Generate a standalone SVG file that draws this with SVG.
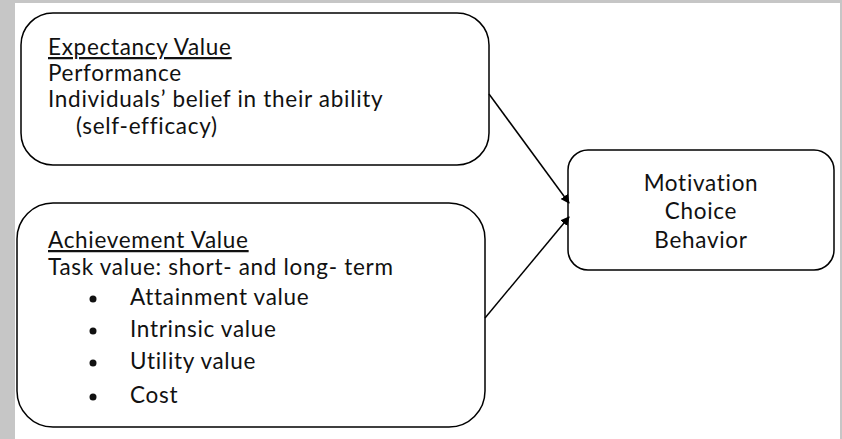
<svg xmlns="http://www.w3.org/2000/svg" width="842" height="439" viewBox="0 0 842 439">
<defs>
<style>
.box{fill:#fff;stroke:#000;stroke-width:1.5}
.t{font-family:Lato,"Open Sans","Liberation Sans",sans-serif;font-size:22.5px;letter-spacing:0.7px;fill:#111}
.c{text-anchor:middle}
.edge{stroke:#000;stroke-width:1.5;fill:none;marker-end:url(#ah)}
</style>
<marker id="ah" viewBox="0 0 10 10" refX="9" refY="5" markerWidth="9" markerHeight="9" markerUnits="userSpaceOnUse" orient="auto"><path d="M0,0 L10,5 L0,10 z" fill="#000"/></marker>
</defs>
<rect x="0" y="0" width="842" height="439" fill="#c6c6c6"/>
<rect x="15" y="3" width="825" height="436" fill="#fff"/>
<g id="expectancy">
<rect class="box" x="21" y="13" width="468" height="152" rx="32"/>
<text class="t" x="48" y="55" text-decoration="underline">Expectancy Value</text>
<text class="t" x="48" y="81">Performance</text>
<text class="t" x="48" y="107">Individuals’ belief in their ability</text>
<text class="t" x="76" y="134">(self-efficacy)</text>
</g>
<g id="achievement">
<rect class="box" x="17" y="203" width="468" height="224" rx="36"/>
<text class="t" x="48" y="248" text-decoration="underline">Achievement Value</text>
<text class="t" x="48" y="275">Task value: short- and long- term</text>
<circle cx="93" cy="299" r="3.5" fill="#111"/>
<circle cx="93" cy="331" r="3.5" fill="#111"/>
<circle cx="93" cy="363" r="3.5" fill="#111"/>
<circle cx="93" cy="397" r="3.5" fill="#111"/>
<text class="t" x="130" y="305">Attainment value</text>
<text class="t" x="130" y="337">Intrinsic value</text>
<text class="t" x="130" y="369">Utility value</text>
<text class="t" x="130" y="403">Cost</text>
</g>
<g id="outcome">
<rect class="box" x="568" y="150" width="266" height="120" rx="20"/>
<text class="t c" x="701" y="191">Motivation</text>
<text class="t c" x="701" y="219">Choice</text>
<text class="t c" x="701" y="248">Behavior</text>
</g>
<g id="connectors">
<path class="edge" d="M489,94 L569,203"/>
<path class="edge" d="M485,318 L569,217"/>
</g>
</svg>
